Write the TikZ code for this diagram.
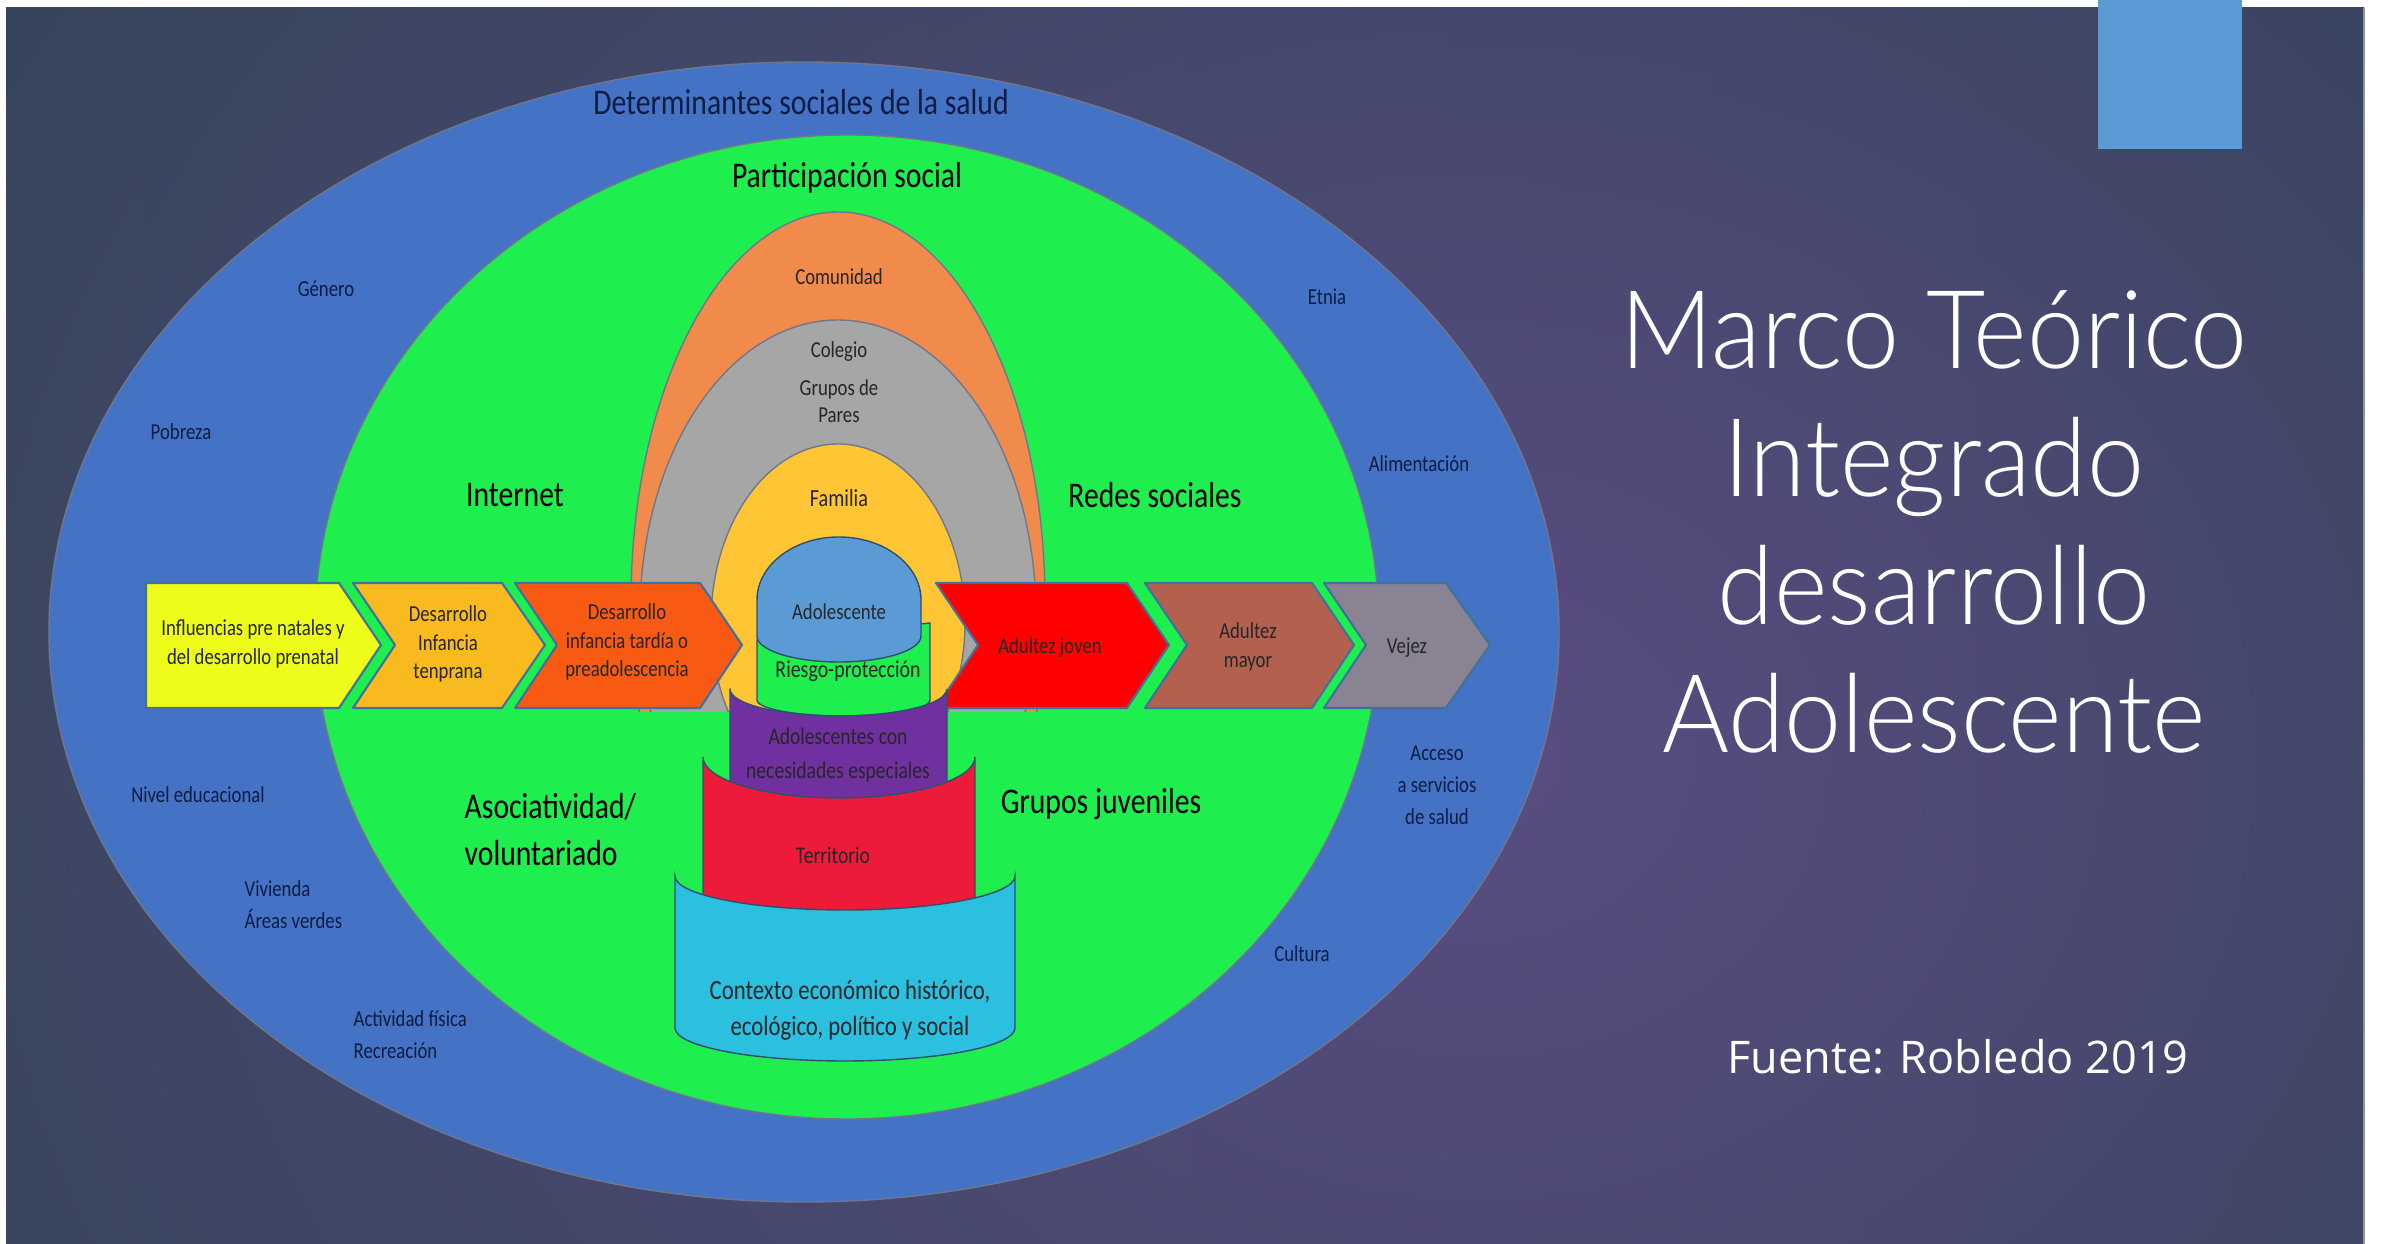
\documentclass[tikz,border=0pt]{standalone}
\usepackage{fontspec}
\usetikzlibrary{fadings}
\newfontfamily\diag[FakeStretch=0.82]{Carlito}
\IfFontExistsTF{Lato Light}{\newfontfamily\titlefont[FakeStretch=0.94]{Lato Light}}{\newfontfamily\titlefont[FakeStretch=0.94]{Lato}}
\newfontfamily\notefont{Open Sans}
\tikzfading[name=halo, inner color=transparent!0, outer color=transparent!100]
\definecolor{fondoA}{HTML}{37455C}
\definecolor{fondoB}{HTML}{2E4255}
\definecolor{violeta}{HTML}{5A4D82}
\definecolor{cuadro}{HTML}{5B9BD5}
\definecolor{anillo}{HTML}{4472C4}
\definecolor{verde}{HTML}{1EEE4E}
\definecolor{naranja}{HTML}{F08B4C}
\definecolor{gris}{HTML}{A6A6A6}
\definecolor{amarillo}{HTML}{FFC534}
\definecolor{celeste}{HTML}{5B9BD5}
\definecolor{morado}{HTML}{7030A0}
\definecolor{carmin}{HTML}{EE1A3A}
\definecolor{cian}{HTML}{2BBFE0}
\definecolor{limon}{HTML}{EEFC1A}
\definecolor{ambar}{HTML}{F8BA1E}
\definecolor{mandarina}{HTML}{F85A14}
\definecolor{rojo}{HTML}{FF0000}
\definecolor{teja}{HTML}{B4604E}
\definecolor{ceniza}{HTML}{8A8393}
\definecolor{tinta}{HTML}{0F1C44}
\definecolor{borde}{HTML}{41719C}

\begin{document}
\begin{tikzpicture}[
    x=0.1mm, y=-0.1mm,
    aro/.style={draw=tinta!60, line width=0.4pt},
    etapa/.style={draw=borde, line width=0.6pt, line join=round},
    capa/.style={draw=borde!70!black, line width=0.4pt},
    rot/.style={font=\diag\fontsize{10.3}{13.4}\selectfont, text=black, inner sep=0pt, align=left},
    det/.style={font=\diag\fontsize{6.5}{9.1}\selectfont, text=tinta, inner sep=0pt, align=center},
    chico/.style={font=\diag\fontsize{6.5}{8.2}\selectfont, text=black!85, inner sep=0pt, align=center},
    titulo/.style={font=\titlefont\fontsize{31}{36.4}\selectfont, text=white, inner sep=0pt, align=center},
    fuente/.style={font=\notefont\fontsize{12.8}{15}\selectfont, text=white, inner sep=0pt}
  ]
  \useasboundingbox (0,0) rectangle (2387,1244);
  \fill[white] (0,0) rectangle (2387,1244);
  \begin{scope}
    \clip (6,8) rectangle (2364,1244);
    \shade[left color=fondoA, right color=fondoB] (6,8) rectangle (2364,1244);
    \fill[violeta, path fading=halo] (1480,760) ellipse[x radius=1700, y radius=1450];
  \end{scope}
  \draw[gris!80!fondoA, line width=0.5pt] (2364,8) -- (2364,1244);
  \fill[cuadro] (2098,0) rectangle (2242,149);

  \filldraw[aro, fill=anillo] (804,632) ellipse[x radius=755, y radius=570];
  \filldraw[aro, fill=verde] (847,627) ellipse[x radius=532, y radius=492];
  \begin{scope}
    \clip (500,150) rectangle (1200,712);
    \filldraw[aro, fill=naranja] (838,602) ellipse[x radius=207, y radius=390];
    \filldraw[aro, fill=gris] (838,615) ellipse[x radius=198, y radius=295];
    \filldraw[aro, fill=amarillo] (838,622) ellipse[x radius=127, y radius=178];
  \end{scope}

  \filldraw[etapa, fill=limon] (146,583) -- (339,583) -- (381,645) -- (339,708) -- (146,708) -- cycle;
  \filldraw[etapa, fill=ambar] (353,583) -- (502,583) -- (545,645) -- (502,708) -- (353,708) -- (395,645) -- cycle;
  \filldraw[etapa, fill=mandarina] (515,583) -- (700,583) -- (742,645) -- (700,708) -- (515,708) -- (557,645) -- cycle;
  \filldraw[etapa, fill=rojo] (936,583) -- (1127,583) -- (1169,645) -- (1127,708) -- (936,708) -- (978,645) -- cycle;
  \filldraw[etapa, fill=teja] (1145,583) -- (1312,583) -- (1354,645) -- (1312,708) -- (1145,708) -- (1187,645) -- cycle;
  \filldraw[etapa, fill=ceniza] (1324,583) -- (1446,583) -- (1490,645) -- (1446,708) -- (1324,708) -- (1366,645) -- cycle;

  \filldraw[capa, fill=verde] (757,640) -- (757,700) arc[start angle=180, end angle=0, x radius=86.5, y radius=16] -- (930,623) -- cycle;
  \filldraw[capa, fill=celeste] (757,636) -- (757,600) arc[start angle=180, end angle=360, x radius=82, y radius=63]
    -- (921,636) arc[start angle=0, end angle=180, x radius=82, y radius=26] -- cycle;
  \filldraw[capa, fill=morado] (730,689) -- (730,790) arc[start angle=180, end angle=0, x radius=108.5, y radius=20]
    -- (947,689) arc[start angle=0, end angle=180, x radius=108.5, y radius=27] -- cycle;
  \filldraw[capa, fill=carmin] (703,757) -- (703,905) arc[start angle=180, end angle=0, x radius=136, y radius=20]
    -- (975,757) arc[start angle=0, end angle=180, x radius=136, y radius=41] -- cycle;
  \filldraw[capa, fill=cian] (675,876) -- (675,1028) arc[start angle=180, end angle=0, x radius=170, y radius=33]
    -- (1015,876) arc[start angle=0, end angle=180, x radius=170, y radius=34] -- cycle;

  \node[rot, text=tinta] (determinantes) at (801,102) {Determinantes sociales de la salud};
  \node[rot] (participacion) at (847,178) {Participación social};
  \node[rot] (internet) at (515,495) {Internet};
  \node[rot] (redes) at (1155,495) {Redes sociales};
  \node[rot, anchor=west] (asociatividad) at (464,830) {Asociatividad/\\voluntariado};
  \node[rot] (juveniles) at (1101,804) {Grupos juveniles};

  \node[det] (genero) at (326,289) {Género};
  \node[det] (pobreza) at (181,432) {Pobreza};
  \node[det] (nivel) at (198,795) {Nivel educacional};
  \node[det, anchor=west, align=left] (vivienda) at (244,905) {Vivienda\\Áreas verdes};
  \node[det, anchor=west, align=left] (actividad) at (353,1035) {Actividad física\\Recreación};
  \node[det] (etnia) at (1327,297) {Etnia};
  \node[det] (alimentacion) at (1419,464) {Alimentación};
  \node[det] (acceso) at (1437,785) {Acceso\\a servicios\\de salud};
  \node[det] (cultura) at (1302,954) {Cultura};

  \node[chico] (comunidad) at (839,277) {Comunidad};
  \node[chico] (colegio) at (839,352) {Colegio};
  \node[chico, font=\diag\fontsize{6.5}{7.5}\selectfont] (pares) at (839,401) {Grupos de\\Pares};
  \node[chico, font=\diag\fontsize{7}{8}\selectfont] (familia) at (839,498) {Familia};
  \node[chico] (adolescente) at (839,612) {Adolescente};
  \node[chico, font=\diag\fontsize{6.9}{8}\selectfont] (riesgo) at (848,671) {Riesgo-protección};
  \node[chico, font=\diag\fontsize{6.8}{9.7}\selectfont] (necesidades) at (838,755) {Adolescentes con\\necesidades especiales};
  \node[chico, font=\diag\fontsize{6.8}{8}\selectfont] (territorio) at (833,855) {Territorio};
  \node[chico, font=\diag\fontsize{7.9}{10.2}\selectfont] (contexto) at (850,1010) {Contexto económico histórico,\\ecológico, político y social};

  \node[chico] (prenatal) at (253,644) {Influencias pre natales y\\del desarrollo prenatal};
  \node[chico] (temprana) at (448,644) {Desarrollo\\Infancia\\tenprana};
  \node[chico] (tardia) at (627,642) {Desarrollo\\infancia tardía o\\preadolescencia};
  \node[chico] (joven) at (1050,648) {Adultez joven};
  \node[chico] (mayor) at (1248,647) {Adultez\\mayor};
  \node[chico] (vejez) at (1407,648) {Vejez};

  \node[titulo] (titulo) at (1934,522) {Marco Teórico\\Integrado\\desarrollo\\Adolescente};
  \node[fuente] (fuente) at (1958,1057) {Fuente: Robledo 2019};
\end{tikzpicture}
\end{document}
